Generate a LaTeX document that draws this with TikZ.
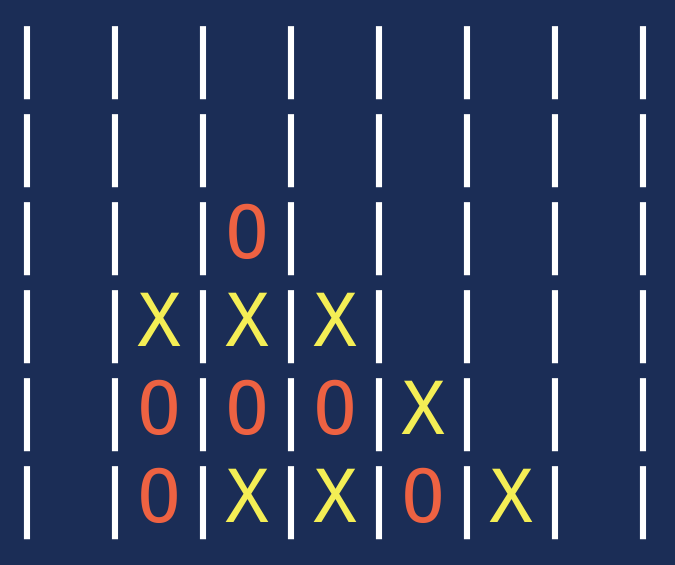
\documentclass[tikz,border=0pt]{standalone}
\usepackage{fontspec}
\newfontfamily\boardfont{DejaVu Sans Mono}
\usetikzlibrary{positioning}
\definecolor{boardbg}{HTML}{1B2D56}
\definecolor{xyellow}{HTML}{F4EE55}
\definecolor{ored}{HTML}{EE6242}
\newcommand{\xmark}{\textcolor{xyellow}{X}}
\newcommand{\omark}{\textcolor{ored}{O}}

\begin{document}
\begin{tikzpicture}[x=1pt,y=1pt,
    rowtext/.style={anchor=base west, inner sep=0pt, text=white,
      font=\boardfont\fontsize{73.1}{88}\selectfont}]
    % Background
    \fill[boardbg] (0,0) rectangle (675,565);
    \useasboundingbox (0,0) rectangle (675,565);

    % Board, one line per row, top to bottom
    \node[rowtext] (row1) at (5,482) {| | | | | | | |};
    \node[rowtext] (row2) at (5,394) {| | | | | | | |};
    \node[rowtext] (row3) at (5,306) {| | |\omark| | | | |};
    \node[rowtext] (row4) at (5,218) {| |\xmark|\xmark|\xmark| | | |};
    \node[rowtext] (row5) at (5,130) {| |\omark|\omark|\omark|\xmark| | |};
    \node[rowtext] (row6) at (5,42) {| |\omark|\xmark|\xmark|\omark|\xmark| |};
  \end{tikzpicture}
\end{document}
